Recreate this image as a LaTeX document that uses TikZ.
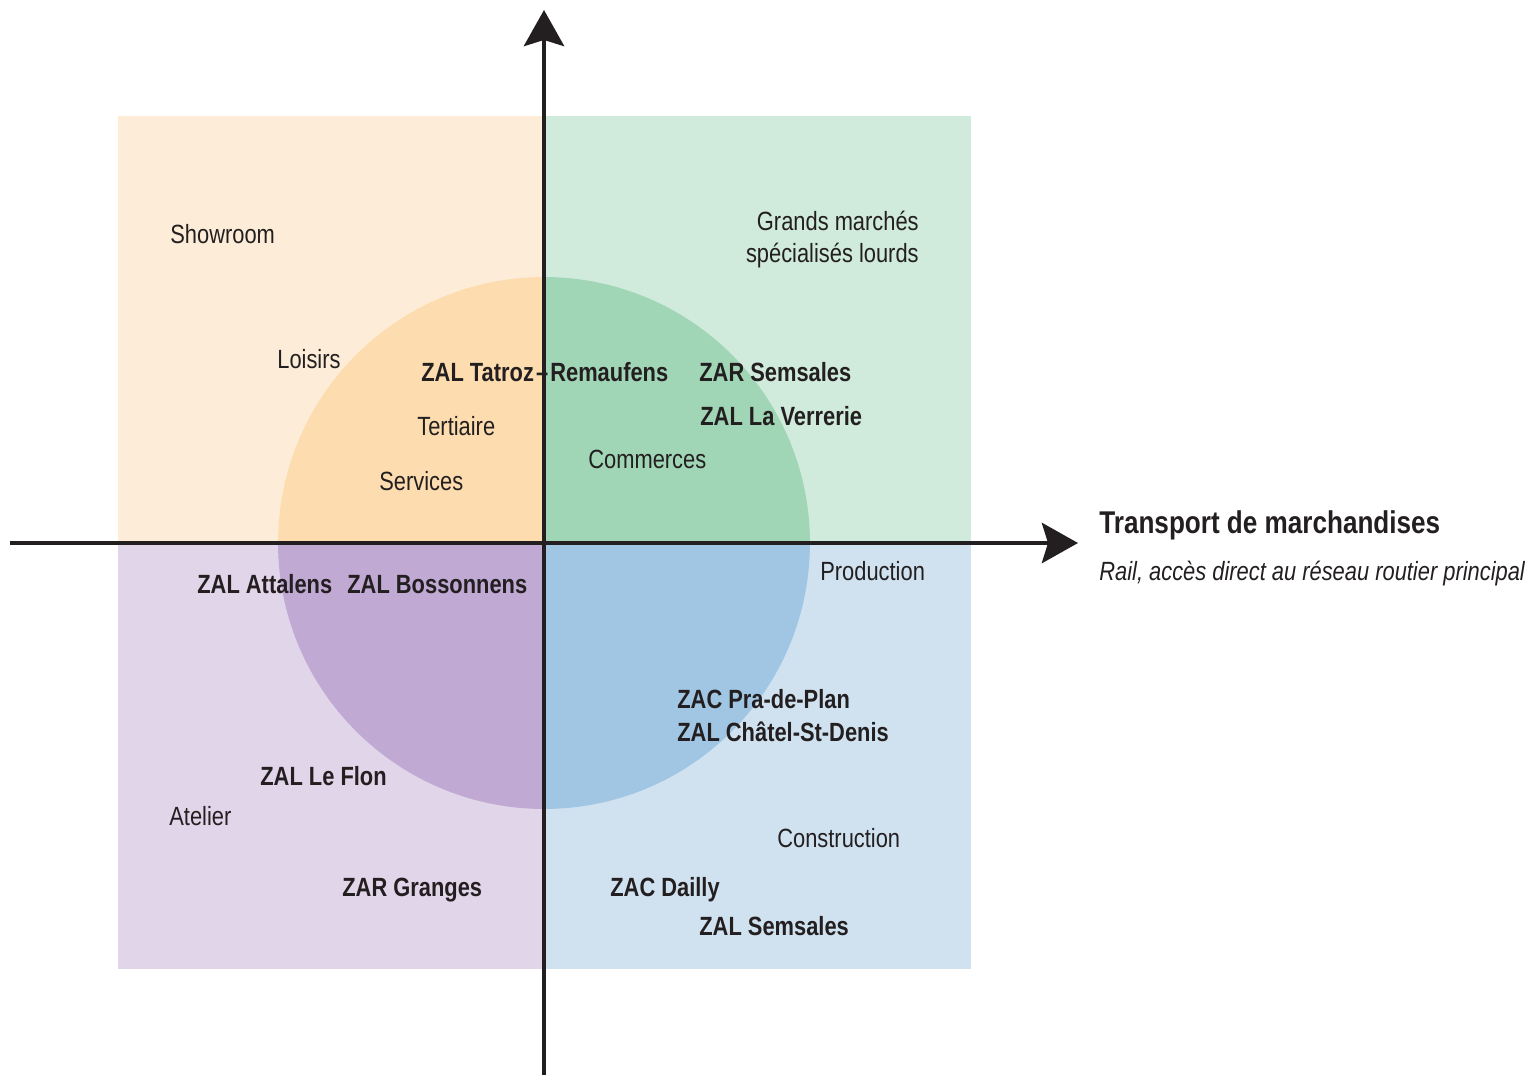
\documentclass[tikz,border=0pt]{standalone}
\usepackage{fontspec}
\setmainfont{Liberation Sans}[FakeStretch=0.83]
\usetikzlibrary{arrows.meta}
\definecolor{ink}{HTML}{231F20}
\definecolor{tlL}{HTML}{FDEDD8}
\definecolor{tlD}{HTML}{FDDDAF}
\definecolor{trL}{HTML}{D0EADC}
\definecolor{trD}{HTML}{A0D5B6}
\definecolor{blL}{HTML}{E1D5E9}
\definecolor{blD}{HTML}{C0A9D3}
\definecolor{brL}{HTML}{D0E2F0}
\definecolor{brD}{HTML}{A0C6E3}
\tikzset{
  lbl/.style={inner sep=0pt, anchor=base west, text=ink, font=\fontsize{15}{18}\selectfont},
  blbl/.style={lbl, font=\fontsize{15}{18}\selectfont\bfseries},
  axis/.style={draw=ink, line width=2.83pt, -{Stealth[length=0.72cm, width=0.8cm, inset=0.12cm]}},
}
\begin{document}
\begin{tikzpicture}[x=0.02cm, y=-0.02cm]
\useasboundingbox (0,0) rectangle (1528,1075);
% quadrants
\fill[tlL] (118,116) rectangle (544,543);
\fill[trL] (544,116) rectangle (971,543);
\fill[blL] (118,543) rectangle (544,969);
\fill[brL] (544,543) rectangle (971,969);
% circle quarters
\begin{scope}
  \clip (0,0) rectangle (544,543);
  \fill[tlD] (544,543) circle[radius=5.32cm];
\end{scope}
\begin{scope}
  \clip (544,0) rectangle (1528,543);
  \fill[trD] (544,543) circle[radius=5.32cm];
\end{scope}
\begin{scope}
  \clip (0,543) rectangle (544,1075);
  \fill[blD] (544,543) circle[radius=5.32cm];
\end{scope}
\begin{scope}
  \clip (544,543) rectangle (1528,1075);
  \fill[brD] (544,543) circle[radius=5.32cm];
\end{scope}
% axes
\coordinate (xs) at (10,543);
\coordinate (xe) at (1078,543);
\coordinate (ys) at (544,1075);
\coordinate (ye) at (544,10);
\draw[axis] (xs) -- (xe);
\draw[axis] (ys) -- (ye);
% labels
\node[lbl] (showroom) at (170,243) {Showroom};
\node[lbl] (loisirs) at (277,368) {Loisirs};
\node[blbl] (tatroz) at (421,381) {ZAL Tatroz\hspace{1.2pt}–\hspace{1.2pt}Remaufens};
\node[blbl] (zarsem) at (699,381) {ZAR Semsales};
\node[blbl] (verrerie) at (700,425) {ZAL La Verrerie};
\node[lbl] (tertiaire) at (417,435) {Tertiaire};
\node[lbl] (services) at (379,490) {Services};
\node[lbl] (commerces) at (588,468) {Commerces};
\node[lbl, anchor=base east] (grands1) at (919,230) {Grands marchés};
\node[lbl, anchor=base east] (grands2) at (919,262) {spécialisés lourds};
\node[blbl, font=\fontsize{17.9}{21}\selectfont\bfseries] (transport) at (1099,533) {Transport de marchandises};
\node[lbl, font=\fontsize{15}{18}\selectfont\itshape] (rail) at (1099,580) {Rail, accès direct au réseau routier principal};
\node[lbl] (production) at (820,580) {Production};
\node[blbl] (attalens) at (197,593) {ZAL Attalens};
\node[blbl] (bossonnens) at (347,593) {ZAL Bossonnens};
\node[blbl] (pradeplan) at (677,708) {ZAC Pra-de-Plan};
\node[blbl] (chatel) at (677,741) {ZAL Châtel-St-Denis};
\node[blbl] (flon) at (260,785) {ZAL Le Flon};
\node[lbl] (atelier) at (169,825) {Atelier};
\node[lbl] (construction) at (777,847) {Construction};
\node[blbl] (granges) at (342,896) {ZAR Granges};
\node[blbl] (dailly) at (610,896) {ZAC Dailly};
\node[blbl] (zalsem) at (699,935) {ZAL Semsales};
\end{tikzpicture}
\end{document}
